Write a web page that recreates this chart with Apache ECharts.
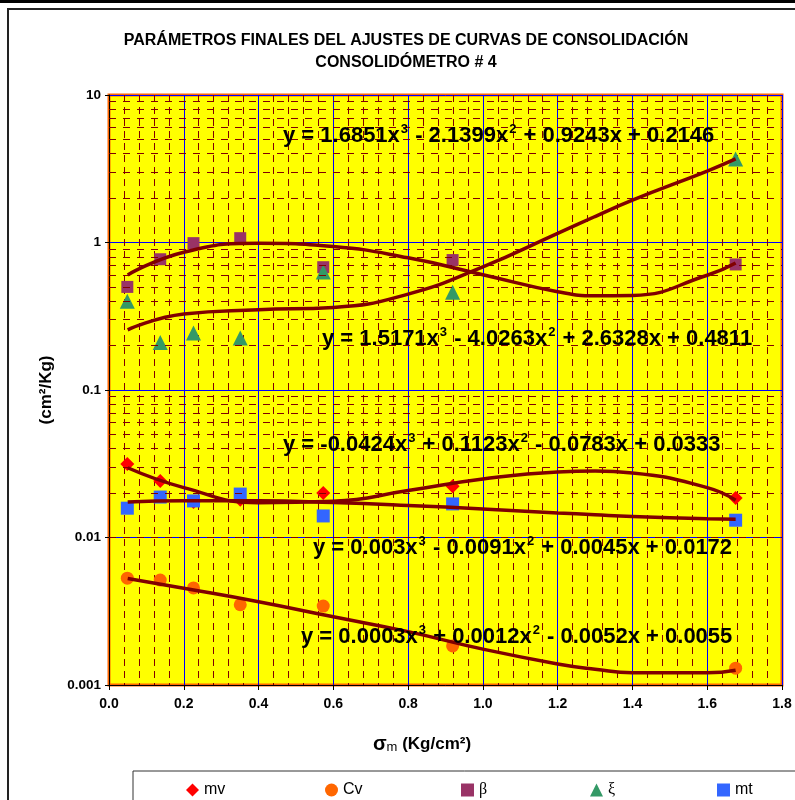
<!DOCTYPE html>
<html>
<head>
<meta charset="utf-8">
<script src="https://cdn.jsdelivr.net/npm/echarts@6/dist/echarts.min.js"></script>
<style>
  html, body { margin: 0; padding: 0; background: #fff; }
  #chart { width: 795px; height: 800px; }
</style>
</head>
<body>
<div id="chart"></div>
<script>
// sigma_m (Kg/cm2) of each load step
const sigma = [0.049, 0.137, 0.226, 0.351, 0.573, 0.919, 1.676];
const mv = [0.0315, 0.0242, 0.0174, 0.0180, 0.0200, 0.0223, 0.0185];
const cv = [0.0053, 0.00515, 0.00455, 0.0035, 0.00343, 0.00184, 0.0013];
const beta = [0.50, 0.77, 0.99, 1.07, 0.68, 0.76, 0.71];
const xi = [0.40, 0.21, 0.243, 0.225, 0.63, 0.46, 3.68];
const mt = [0.0158, 0.0188, 0.0177, 0.0197, 0.0140, 0.0169, 0.0131];

// polynomial trend lines
const trendX = [0.05, 0.2, 0.4, 0.6, 0.8, 1.0, 1.2, 1.3, 1.4, 1.6, 1.676];
const trendMv = [0.0297, 0.0218, 0.0172, 0.0176, 0.0208, 0.0249, 0.0278, 0.0282, 0.0274, 0.0218, 0.0179];
const trendCv = [0.00528, 0.00453, 0.00367, 0.0029, 0.0023, 0.00175, 0.00139, 0.00128, 0.00121, 0.00121, 0.00126];
const trendBeta = [0.603, 0.859, 0.987, 0.939, 0.787, 0.605, 0.464, 0.435, 0.438, 0.600, 0.727];
const trendXi = [0.256, 0.327, 0.350, 0.363, 0.447, 0.684, 1.154, 1.50, 1.938, 3.05, 3.686];
const trendMt = [0.0174, 0.01776, 0.01774, 0.01727, 0.01651, 0.0156, 0.01468, 0.01426, 0.01389, 0.01339, 0.0133];

// trend line equations as printed on the chart
const eqXi = 'y = 1.6851x^3 - 2.1399x^2 + 0.9243x + 0.2146';
const eqBeta = 'y = 1.5171x^3 - 4.0263x^2 + 2.6328x + 0.4811';
const eqMv = 'y = -0.0424x^3 + 0.1123x^2 - 0.0783x + 0.0333';
const eqMt = 'y = 0.003x^3 - 0.0091x^2 + 0.0045x + 0.0172';
const eqCv = 'y = 0.0003x^3 + 0.0012x^2 - 0.0052x + 0.0055';

const FONT = 'Liberation Sans, Arial, sans-serif';
const TREND = '#800000';

// minor gridlines of the log axis (2..9 of each decade)
let minorY = [];
[0.001, 0.01, 0.1, 1].forEach(d => {
    for (let k = 2; k <= 9; k++) minorY.push({yAxis: +(k * d).toPrecision(3)});
});

function pairs(xs, ys) {
    return xs.map((x, i) => [x, ys[i]]);
}

function eqText(s, x, y) {
    return {
        type: 'text',
        x: x,
        y: y,
        z: 100,
        style: {
            text: '{m|' + s.replace(/\^(\d)/g, '}{s|$1}{m|') + '}',
            verticalAlign: 'middle',
            align: 'left',
            rich: {
                m: {fontSize: 22, fontWeight: 'bold', fontFamily: FONT, fill: '#000', lineHeight: 26},
                s: {fontSize: 13, fontWeight: 'bold', fontFamily: FONT, fill: '#000', lineHeight: 11, verticalAlign: 'top', padding: [0, 1, 0, 1]}
            }
        }
    };
}

function scatter(name, data, symbol, size, color) {
    return {
        name: name,
        type: 'scatter',
        data: pairs(sigma, data),
        symbol: symbol,
        symbolSize: size,
        itemStyle: {color: color, opacity: 1},
        z: 3
    };
}

function trend(name, data) {
    return {
        name: name,
        type: 'line',
        data: pairs(trendX, data),
        smooth: true,
        showSymbol: false,
        lineStyle: {color: TREND, width: 3.5},
        z: 4
    };
}

function legendAt(name, cx, serif) {
    return {
        data: [name],
        left: cx - 6,
        top: 782,
        padding: 0,
        itemWidth: 13,
        itemHeight: 13,
        itemGap: 0,
        textStyle: {fontSize: 16, color: '#000', fontFamily: serif ? 'Liberation Serif, DejaVu Serif, serif' : FONT}
    };
}

let chart = echarts.init(document.getElementById('chart'));
chart.setOption({
    animation: false,
    title: {
        text: 'PARÁMETROS FINALES DEL AJUSTES DE CURVAS DE CONSOLIDACIÓN\nCONSOLIDÓMETRO # 4',
        left: 406,
        top: 30,
        padding: 0,
        textAlign: 'center',
        textStyle: {fontSize: 16, fontWeight: 'bold', lineHeight: 22, color: '#000', fontFamily: FONT}
    },
    grid: {
        left: 109, right: 13, top: 95, bottom: 115,
        show: true,
        backgroundColor: '#ffff00',
        borderColor: '#ff6600',
        borderWidth: 3
    },
    legend: [
        legendAt('mv', 192, false),
        legendAt('Cv', 331, false),
        legendAt('β', 467, true),
        legendAt('ξ', 596, true),
        legendAt('mt', 723, false)
    ],
    xAxis: {
        type: 'value',
        min: 0, max: 1.8, interval: 0.2,
        name: '{s|σ}{m|m}{t| (Kg/cm²)}',
        nameLocation: 'middle',
        nameGap: 49,
        nameTextStyle: {
            padding: [0, 47, 0, 0],
            rich: {
                s: {fontSize: 20, fontWeight: 'bold', fontFamily: FONT, color: '#000'},
                m: {fontSize: 13, fontFamily: FONT, color: '#000', verticalAlign: 'bottom', lineHeight: 14},
                t: {fontSize: 17, fontWeight: 'bold', fontFamily: FONT, color: '#000'}
            }
        },
        axisLine: {lineStyle: {color: '#000', width: 1}},
        axisTick: {show: true, inside: false, length: 5, lineStyle: {color: '#000'}},
        axisLabel: {
            formatter: v => v.toFixed(1),
            fontSize: 14, fontWeight: 'bold', color: '#000', fontFamily: FONT, margin: 12
        },
        splitLine: {show: true, lineStyle: {color: '#0000ff', width: 1}},
        minorTick: {show: false, splitNumber: 5},
        minorSplitLine: {show: true, lineStyle: {color: TREND, width: 1, type: [7, 5]}}
    },
    yAxis: {
        type: 'log',
        logBase: 10,
        min: 0.001, max: 10,
        name: '(cm²/Kg)',
        nameLocation: 'middle',
        nameGap: 54,
        nameRotate: 90,
        nameTextStyle: {fontSize: 17, fontWeight: 'bold', color: '#000', fontFamily: FONT},
        axisLine: {show: true, lineStyle: {color: '#000', width: 1}},
        axisTick: {show: true, length: 4, lineStyle: {color: '#000'}},
        axisLabel: {fontSize: 13.5, fontWeight: 'bold', color: '#000', fontFamily: FONT, margin: 8},
        splitLine: {show: true, lineStyle: {color: '#0000ff', width: 1}}
    },
    graphic: [
        {type: 'rect', shape: {x: 0, y: 0, width: 795, height: 3}, style: {fill: '#000'}, z: 0},
        {type: 'rect', shape: {x: 8, y: 9, width: 900, height: 900}, style: {fill: 'none', stroke: '#222', lineWidth: 2}, z: 0},
        {type: 'rect', shape: {x: 133, y: 771, width: 700, height: 60}, style: {fill: 'none', stroke: '#333', lineWidth: 1}, z: 0},
        eqText(eqXi, 283, 136),
        eqText(eqBeta, 322, 339),
        eqText(eqMv, 283, 445),
        eqText(eqMt, 313, 548),
        eqText(eqCv, 301, 637)
    ],
    series: [
        {
            name: 'minor-grid',
            type: 'line',
            data: [],
            z: 1,
            silent: true,
            markLine: {
                silent: true,
                symbol: ['none', 'none'],
                label: {show: false},
                animation: false,
                lineStyle: {color: TREND, width: 1, type: [7, 7]},
                data: minorY
            }
        },
        scatter('mv', mv, 'diamond', 14, '#ff0000'),
        scatter('Cv', cv, 'circle', 13, '#ff6600'),
        scatter('β', beta, 'rect', 12, '#993366'),
        scatter('ξ', xi, 'triangle', 15, '#339966'),
        scatter('mt', mt, 'rect', 13, '#3366ff'),
        trend('tr-mv', trendMv),
        trend('tr-cv', trendCv),
        trend('tr-beta', trendBeta),
        trend('tr-xi', trendXi),
        trend('tr-mt', trendMt)
    ]
});
</script>
</body>
</html>
